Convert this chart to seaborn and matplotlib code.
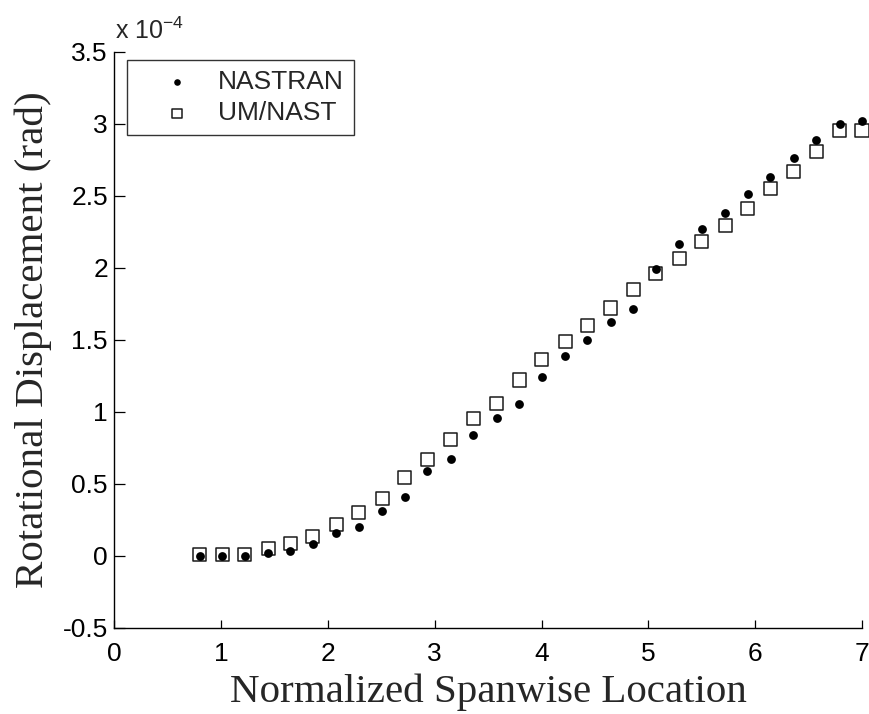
import matplotlib
matplotlib.use("Agg")
import matplotlib.pyplot as plt
import seaborn as sns
import pandas as pd

# Spanwise positions (normalized)
span = [0.80, 1.01, 1.22, 1.44, 1.65, 1.86, 2.08, 2.29, 2.51, 2.72,
        2.93, 3.15, 3.36, 3.58, 3.79, 4.00, 4.22, 4.43, 4.65, 4.86,
        5.07, 5.29, 5.50, 5.72, 5.93, 6.14, 6.36, 6.57, 6.79, 7.00]

# Rotational displacement, units of 1e-4 rad
nastran = [0.00, 0.00, 0.00, 0.02, 0.03, 0.08, 0.16, 0.20, 0.31, 0.41,
           0.59, 0.67, 0.84, 0.955, 1.05, 1.24, 1.39, 1.50, 1.62, 1.715,
           1.99, 2.165, 2.27, 2.38, 2.51, 2.63, 2.76, 2.89, 3.00, 3.02]
umnast = [0.01, 0.01, 0.01, 0.047, 0.086, 0.13, 0.215, 0.30, 0.40, 0.545,
          0.67, 0.81, 0.95, 1.06, 1.22, 1.365, 1.49, 1.60, 1.72, 1.85,
          1.96, 2.065, 2.18, 2.29, 2.41, 2.55, 2.67, 2.81, 2.95, 2.95]

x_ticks = [0, 1, 2, 3, 4, 5, 6, 7]
y_ticks = [-0.5, 0, 0.5, 1, 1.5, 2, 2.5, 3, 3.5]
y_tick_labels = ["-0.5", "0", "0.5", "1", "1.5", "2", "2.5", "3", "3.5"]

df_n = pd.DataFrame({"x": span, "y": nastran})
df_u = pd.DataFrame({"x": span, "y": umnast})

sns.set_style("white")
plt.rcParams["font.family"] = ["Liberation Sans", "DejaVu Sans"]
plt.rcParams["mathtext.default"] = "regular"

fig = plt.figure(figsize=(8.7, 7.14), dpi=100)
ax = fig.add_axes([0.1313, 0.1209, 0.8595, 0.8067])

sns.scatterplot(data=df_u, x="x", y="y", ax=ax, marker="s", s=88,
                facecolor="none", edgecolor="#1a1a1a", linewidth=1.1,
                label="UM/NAST", zorder=2, clip_on=False)
sns.scatterplot(data=df_n, x="x", y="y", ax=ax, marker="o", s=40,
                color="black", edgecolor="black", linewidth=0,
                label="NASTRAN", zorder=3, clip_on=False)

ax.set_xlim(0, 7)
ax.set_ylim(-0.5, 3.5)
ax.set_xticks(x_ticks)
ax.set_yticks(y_ticks)
ax.set_yticklabels(y_tick_labels)

for side in ["top", "right"]:
    ax.spines[side].set_visible(False)
for side in ["left", "bottom"]:
    ax.spines[side].set_color("black")
    ax.spines[side].set_linewidth(1.0)

ax.tick_params(axis="x", direction="in", length=6, width=0.9,
               labelsize=19, colors="black", pad=10, bottom=True)
ax.tick_params(axis="y", direction="in", length=8, width=0.9,
               labelsize=19, colors="black", pad=4.5, left=True)

ax.set_xlabel("Normalized Spanwise Location", family="Liberation Serif",
              fontsize=29.5)
ax.set_ylabel("Rotational Displacement (rad)", family="Liberation Serif",
              fontsize=29.5)
ax.xaxis.set_label_coords(0.5, -0.080)
ax.yaxis.set_label_coords(-0.083, 0.5)

ax.text(0.001, 1.022, r"x 10$^{-4}$", transform=ax.transAxes,
        fontsize=18, ha="left", va="baseline")

h, l = ax.get_legend_handles_labels()
order = [l.index("NASTRAN"), l.index("UM/NAST")]
leg = ax.legend([h[i] for i in order], [l[i] for i in order],
                loc="upper left", bbox_to_anchor=(0.0175, 0.9856),
                borderaxespad=0, fancybox=False, frameon=True,
                fontsize=19, handletextpad=0.05, borderpad=0.38,
                handlelength=3.0, labelspacing=0.28, markerscale=0.75)
leg.get_frame().set_edgecolor("black")
leg.get_frame().set_linewidth(1.0)

fig.savefig("out.png", dpi=100)
